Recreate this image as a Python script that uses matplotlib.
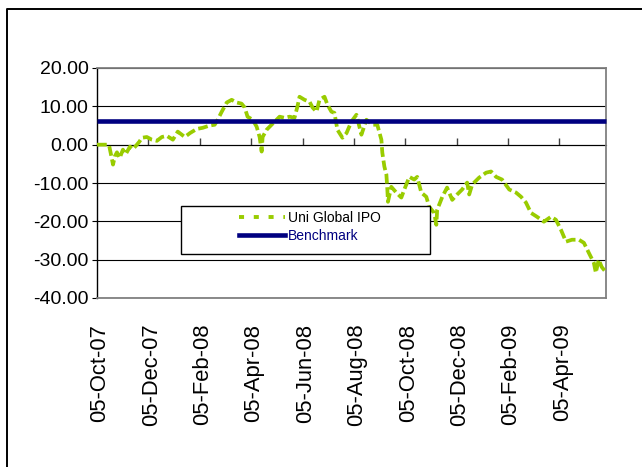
import matplotlib
matplotlib.use("Agg")
import matplotlib.pyplot as plt
from matplotlib.lines import Line2D
from matplotlib.patches import Rectangle

plt.rcParams['font.family'] = ['Liberation Sans', 'DejaVu Sans']

# ---- data ----
tick_labels = ["05-Oct-07", "05-Dec-07", "05-Feb-08", "05-Apr-08", "05-Jun-08",
               "05-Aug-08", "05-Oct-08", "05-Dec-08", "05-Feb-09", "05-Apr-09"]
label_step = 43          # trading days between labelled dates
n_days = 426             # number of trading days shown

fund_idx = [0, 10, 11, 12, 13.4, 15, 16.7, 19, 21.7, 24, 27.6, 30, 33.4, 35.5, 37.6,
            41.7, 45.9, 50.1, 54.3, 58.4, 63.5, 67.6, 73.5, 77.7, 83.5, 88.5, 94.4,
            98.5, 101, 104.4, 108.6, 112.7, 116.9, 121, 123.6, 126, 130.3, 133.6,
            136.1, 137.8, 138.6, 142, 146.1, 150.3, 152.8, 157, 161.2, 165.3, 167.8,
            169.5, 173.7, 177.9, 180.4, 183.7, 186.2, 190.4, 192.9, 196.2, 198.7,
            201.2, 205.4, 208.8, 212.9, 217.1, 221.3, 225.5, 230.5, 234.6, 238,
            238.8, 240.5, 242.2, 243, 243.5, 246.3, 250.5, 254.7, 257.2, 261.4,
            265.5, 268, 271.4, 275.6, 278, 282.2, 284, 284.7, 289, 293, 297.3,
            301.4, 305.6, 309.8, 311.5, 314, 319.8, 325.7, 329.8, 334, 339, 345,
            350.7, 354.9, 359, 363.2, 368.2, 374, 380, 384.1, 388.3, 392.5, 397.5,
            403.3, 407.5, 411.6, 415.8, 417.5, 419.9, 422.4, 425.7]
fund_val = [0.0, 0.0, -1.5, -3.0, -5.2, -3.0, -2.0, -3.5, -1.3, -2.5, -0.5, -1.2, 0.0,
            0.8, 1.8, 2.0, 1.3, 1.0, 2.0, 2.3, 1.3, 3.4, 2.0, 3.0, 4.1, 4.4, 5.0, 5.2,
            6.5, 8.6, 11.0, 11.7, 11.0, 10.7, 9.7, 7.3, 6.5, 4.7, 2.0, -1.8, 2.0, 3.9,
            5.2, 6.5, 7.3, 7.0, 7.3, 7.0, 10.0, 12.5, 11.7, 11.2, 9.7, 8.6, 11.7, 12.5,
            10.4, 8.6, 8.3, 3.9, 1.8, 3.0, 6.0, 7.8, 2.6, 6.5, 5.2, 5.2, 1.3, -2.1,
            -5.7, -7.8, -11.7, -14.9, -11.0, -12.5, -13.8, -11.7, -8.4, -9.1, -8.4,
            -12.5, -13.6, -16.2, -17.8, -20.9, -17.0, -13.6, -11.2, -14.4, -13.0,
            -11.7, -9.9, -13.0, -10.4, -8.6, -7.3, -7.0, -8.4, -9.1, -11.7, -12.5,
            -13.6, -15.1, -17.8, -18.8, -20.1, -18.8, -19.6, -22.2, -25.3, -24.8,
            -24.8, -25.6, -28.2, -30.8, -33.4, -30.0, -31.9, -33.2]

bench_idx = [0, n_days]
bench_val = [6.2, 6.2]

y_ticks = [20, 10, 0, -10, -20, -30, -40]

# ---- figure ----
fig = plt.figure(figsize=(6.42, 4.67), dpi=100)
ax = fig.add_axes([97/642, 169/467, 509/642, 230/467])

green = "#99CC00"
navy = "#000080"

ax.plot(fund_idx, fund_val, color=green, lw=2.7,
        linestyle=(0, (2.6, 1.0)), dash_capstyle='butt', zorder=3)
ax.plot(bench_idx, bench_val, color=navy, lw=3.3, zorder=4,
        solid_capstyle='butt', clip_on=False)

ax.set_xlim(0, n_days)
ax.set_ylim(-40, 20)

ax.set_yticks(y_ticks, labels=[f"{v:.2f}" for v in y_ticks])
ax.tick_params(axis='y', direction='out', length=3.5, width=0.8, pad=2.5,
               labelsize=14, colors='black')
ax.yaxis.grid(True, color='black', lw=0.8)
ax.set_axisbelow(True)

label_pos = [k * label_step + 2.5 for k in range(len(tick_labels))]
ax.set_xticks(label_pos, labels=tick_labels, rotation=90)
ax.tick_params(axis='x', length=0, pad=18.5, labelsize=15.8)

for s in ['top', 'right', 'bottom']:
    ax.spines[s].set_color('#808080')
    ax.spines[s].set_linewidth(1.3)
ax.spines['left'].set_color('black')
ax.spines['left'].set_linewidth(1.0)

# category axis crossing at zero
zero_frac = (0 - (-40)) / (20 - (-40))
sec = ax.secondary_xaxis(zero_frac)
sec.set_xticks([k * label_step for k in range(1, len(tick_labels))], labels=[])
sec.tick_params(direction='out', length=5, width=1.0, colors='#404040')
sec.spines['bottom'].set_color('#404040')
sec.spines['bottom'].set_linewidth(1.2)

# legend box
fig.patches.append(Rectangle((181/642, 1 - 254/467), 249/642, 48/467,
                             transform=fig.transFigure, facecolor='white',
                             edgecolor='black', lw=1.0, zorder=5))
h1 = Line2D([], [], color=green, lw=2.8, linestyle=(0, (1.3, 2.5)), dash_capstyle='butt')
h2 = Line2D([], [], color=navy, lw=3.3)
leg = fig.legend([h1, h2], ["Uni Global IPO", "Benchmark"], loc='center',
                 bbox_to_anchor=(310/642, 1 - 227/467), frameon=False,
                 fontsize=10, handlelength=3.3, handletextpad=0.25,
                 labelspacing=0.25, borderpad=0.1)
leg.set_zorder(6)
leg.get_texts()[1].set_color(navy)

# outer frame (top and left edges)
fig.lines.append(Line2D([7/642, 7/642, 1.0], [0.0, 1 - 9/467, 1 - 9/467],
                        transform=fig.transFigure, color='black', lw=1.4))

fig.savefig("out.png", dpi=100)
